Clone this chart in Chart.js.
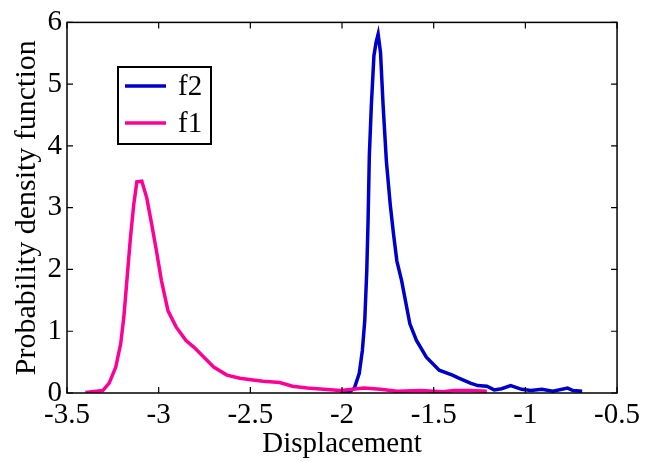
<!DOCTYPE html>
<html>
<head>
<meta charset="utf-8">
<script src="https://cdn.jsdelivr.net/npm/chart.js@4"></script>
<style>
  html, body { margin: 0; padding: 0; background: #fff; }
  #wrap { width: 645px; height: 462px; }
</style>
</head>
<body>
<div id="wrap"><canvas id="grafico"></canvas></div>
<script>
// f1 (pink)
const f1X = [-3.40, -3.305, -3.27, -3.234, -3.207, -3.19, -3.172, -3.154, -3.136, -3.119, -3.092, -3.065, -3.038, -3.012, -2.985, -2.949, -2.905, -2.851, -2.807, -2.753, -2.70, -2.628, -2.557, -2.486, -2.43, -2.34, -2.27, -2.19, -2.10, -2.01, -1.94, -1.88, -1.79, -1.70, -1.57, -1.45, -1.39, -1.30, -1.21];
const f1Y = [0.01, 0.04, 0.16, 0.42, 0.80, 1.23, 1.87, 2.51, 3.05, 3.42, 3.43, 3.16, 2.73, 2.30, 1.82, 1.33, 1.07, 0.85, 0.74, 0.58, 0.42, 0.29, 0.24, 0.21, 0.19, 0.17, 0.11, 0.08, 0.06, 0.04, 0.06, 0.08, 0.06, 0.03, 0.04, 0.02, 0.04, 0.04, 0.03];

// f2 (blue)
const f2X = [-2.01, -1.96, -1.933, -1.906, -1.889, -1.876, -1.865, -1.858, -1.851, -1.84, -1.826, -1.814, -1.803, -1.79, -1.776, -1.758, -1.737, -1.719, -1.701, -1.675, -1.63, -1.594, -1.54, -1.47, -1.398, -1.363, -1.30, -1.26, -1.21, -1.17, -1.13, -1.08, -1.02, -0.97, -0.91, -0.85, -0.77, -0.74, -0.69];
const f2Y = [0.00, 0.02, 0.075, 0.32, 0.69, 1.17, 1.98, 2.78, 3.85, 4.66, 5.46, 5.68, 5.81, 5.51, 4.66, 3.75, 3.05, 2.57, 2.14, 1.82, 1.12, 0.85, 0.58, 0.37, 0.29, 0.24, 0.16, 0.12, 0.11, 0.05, 0.07, 0.12, 0.06, 0.04, 0.06, 0.03, 0.08, 0.04, 0.03];

const xTicks = [-3.5, -3, -2.5, -2, -1.5, -1, -0.5];
const yTicks = [0, 1, 2, 3, 4, 5, 6];

const colorF1 = 'rgb(255, 0, 150)';
const colorF2 = 'rgb(0, 0, 204)';
const fontFam = '"Liberation Serif", "Times New Roman", serif';

const toPoints = (xs, ys) => xs.map((x, i) => ({ x: x, y: ys[i] }));

// box round the plot area and inward ticks on all four sides
const marcoPlugin = {
  id: 'marco',
  afterDraw(chart) {
    const { ctx, chartArea: a, scales } = chart;
    ctx.save();
    ctx.strokeStyle = '#000';
    ctx.lineWidth = 1.5;
    ctx.strokeRect(a.left, a.top, a.right - a.left, a.bottom - a.top);
    ctx.lineWidth = 1.2;
    ctx.beginPath();
    xTicks.forEach(v => {
      const px = scales.x.getPixelForValue(v);
      ctx.moveTo(px, a.bottom); ctx.lineTo(px, a.bottom - 6);
      ctx.moveTo(px, a.top); ctx.lineTo(px, a.top + 6);
    });
    yTicks.forEach(v => {
      const py = scales.y.getPixelForValue(v);
      ctx.moveTo(a.left, py); ctx.lineTo(a.left + 6, py);
      ctx.moveTo(a.right, py); ctx.lineTo(a.right - 6, py);
    });
    ctx.stroke();
    ctx.restore();
  }
};

// legend box inside the plot, f2 above f1
const leyendaPlugin = {
  id: 'leyenda',
  afterDraw(chart) {
    const ctx = chart.ctx;
    const items = [chart.data.datasets[1], chart.data.datasets[0]];
    ctx.save();
    ctx.fillStyle = '#fff';
    ctx.fillRect(118, 67, 93, 77);
    ctx.strokeStyle = '#000';
    ctx.lineWidth = 2;
    ctx.strokeRect(118, 67, 93, 77);
    items.forEach((ds, i) => {
      const y = 86 + i * 37;
      ctx.strokeStyle = ds.borderColor;
      ctx.lineWidth = 3.5;
      ctx.beginPath();
      ctx.moveTo(125, y); ctx.lineTo(166, y);
      ctx.stroke();
      ctx.fillStyle = '#000';
      ctx.font = '29px ' + fontFam;
      ctx.textBaseline = 'middle';
      ctx.fillText(ds.label, 178, y + 1);
    });
    ctx.restore();
  }
};

new Chart(document.getElementById('grafico'), {
  type: 'line',
  data: {
    datasets: [
      { label: 'f1', data: toPoints(f1X, f1Y), borderColor: colorF1, borderWidth: 3.5, pointRadius: 0, tension: 0, fill: false },
      { label: 'f2', data: toPoints(f2X, f2Y), borderColor: colorF2, borderWidth: 3.5, pointRadius: 0, tension: 0, fill: false }
    ]
  },
  options: {
    responsive: true,
    maintainAspectRatio: false,
    animation: false,
    layout: { padding: { left: 0, top: 20, right: 17, bottom: 0 } },
    plugins: { legend: { display: false }, tooltip: { enabled: false } },
    scales: {
      x: {
        type: 'linear',
        min: -3.5,
        max: -0.5,
        afterFit: s => { s.height = 69; },
        afterBuildTicks: s => { s.ticks = xTicks.map(v => ({ value: v })); },
        grid: { display: false, drawTicks: false },
        border: { display: false },
        ticks: {
          color: '#000',
          padding: 5,
          maxRotation: 0,
          font: { family: fontFam, size: 29 },
          callback: v => String(v)
        },
        title: {
          display: true,
          text: 'Displacement',
          color: '#000',
          font: { family: fontFam, size: 29 },
          padding: { top: 0, bottom: 0 }
        }
      },
      y: {
        min: 0,
        max: 6,
        afterFit: s => { s.width = 67; },
        afterBuildTicks: s => { s.ticks = yTicks.map(v => ({ value: v })); },
        grid: { display: false, drawTicks: false },
        border: { display: false },
        ticks: {
          color: '#000',
          padding: 5,
          font: { family: fontFam, size: 29 },
          callback: v => String(v)
        },
        title: {
          display: true,
          text: 'Probability density function',
          color: '#000',
          font: { family: fontFam, size: 30 },
          padding: { top: 9, bottom: 0 }
        }
      }
    }
  },
  plugins: [marcoPlugin, leyendaPlugin]
});
</script>
</body>
</html>
